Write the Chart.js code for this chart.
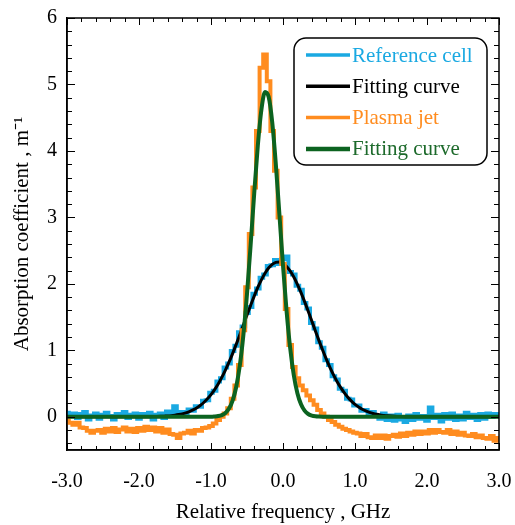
<!DOCTYPE html>
<html><head><meta charset="utf-8">
<script src="https://cdn.jsdelivr.net/npm/chart.js@4.4.1/dist/chart.umd.min.js"></script>
<style>html,body{margin:0;padding:0;background:#fff}#wrap{width:515px;height:525px;position:relative}</style>
</head><body><div id="wrap"><canvas id="c" width="515" height="525"></canvas></div>
<script>
const freq = [-3,-2.95,-2.9,-2.85,-2.8,-2.75,-2.7,-2.65,-2.6,-2.55,-2.5,-2.45,-2.4,-2.35,-2.3,-2.25,-2.2,-2.15,-2.1,-2.05,
-2,-1.95,-1.9,-1.85,-1.8,-1.75,-1.7,-1.65,-1.6,-1.55,-1.5,-1.45,-1.4,-1.35,-1.3,-1.25,-1.2,-1.15,-1.1,-1.05,
-1,-0.95,-0.9,-0.85,-0.8,-0.75,-0.7,-0.65,-0.6,-0.55,-0.5,-0.45,-0.4,-0.35,-0.3,-0.25,-0.2,-0.15,-0.1,-0.05,
0,0.05,0.1,0.15,0.2,0.25,0.3,0.35,0.4,0.45,0.5,0.55,0.6,0.65,0.7,0.75,0.8,0.85,0.9,0.95,
1,1.05,1.1,1.15,1.2,1.25,1.3,1.35,1.4,1.45,1.5,1.55,1.6,1.65,1.7,1.75,1.8,1.85,1.9,1.95,
2,2.05,2.1,2.15,2.2,2.25,2.3,2.35,2.4,2.45,2.5,2.55,2.6,2.65,2.7,2.75,2.8,2.85,2.9,2.95,3];

const referenceCell = [0.06,0.03,0.05,-0.02,0.04,0.07,-0.04,0.02,0.05,-0.03,0.03,0.06,0.01,-0.04,0.04,0.02,0.07,-0.02,0.03,0.05,
-0.03,0.04,0.01,0.06,-0.04,0.03,0.05,-0.02,0.08,0.03,0.16,0.06,0.07,0.05,0.11,0.09,0.16,0.15,0.24,0.25,
0.36,0.39,0.53,0.58,0.74,0.80,0.99,1.07,1.27,1.36,1.56,1.65,1.85,1.93,2.09,2.14,2.27,2.28,2.36,2.30,
2.37,2.41,2.18,2.14,1.97,1.91,1.71,1.63,1.41,1.33,1.12,1.04,0.85,0.78,0.61,0.56,0.42,0.39,0.27,0.26,
0.17,0.17,0.09,0.10,0.04,0.07,0.01,-0.03,0.05,-0.05,0.02,-0.06,0.03,-0.04,-0.08,0.02,-0.05,0.04,-0.03,0.01,
-0.06,0.14,-0.02,0.03,-0.07,0.04,-0.03,0.05,-0.05,0.02,-0.04,0.06,-0.02,0.03,-0.05,0.04,-0.03,0.05,0.00,0.04,0.02];

const referenceFit = [0,0,0,0,0,0,0,0,0,0,0,0,0,0,0,0,0,0,0,0,
0.001,0.001,0.002,0.002,0.003,0.004,0.006,0.009,0.012,0.017,0.024,0.033,0.044,0.059,0.079,0.103,0.133,0.170,0.215,0.270,
0.334,0.409,0.494,0.592,0.702,0.821,0.951,1.089,1.234,1.381,1.531,1.675,1.815,1.946,2.060,2.159,2.238,2.293,2.323,2.329,
2.308,2.262,2.193,2.103,1.993,1.869,1.733,1.589,1.441,1.292,1.146,1.005,0.872,0.748,0.635,0.532,0.442,0.363,0.294,0.236,
0.187,0.147,0.114,0.088,0.067,0.050,0.037,0.027,0.020,0.014,0.010,0.007,0.005,0.003,0.002,0.002,0.001,0.001,0,0,
0,0,0,0,0,0,0,0,0,0,0,0,0,0,0,0,0,0,0,0,0];

const plasmaJet = [-0.05,-0.09,-0.12,-0.09,-0.16,-0.17,-0.21,-0.24,-0.21,-0.20,-0.24,-0.18,-0.22,-0.17,-0.23,-0.19,-0.16,-0.22,-0.18,-0.23,
-0.17,-0.21,-0.15,-0.20,-0.16,-0.22,-0.17,-0.24,-0.19,-0.26,-0.27,-0.32,-0.25,-0.24,-0.21,-0.25,-0.20,-0.21,-0.17,-0.16,
-0.14,-0.10,-0.05,0.00,0.05,0.13,0.27,0.47,0.78,1.30,1.95,2.75,3.45,4.30,5.25,5.45,5.05,4.30,3.70,3.00,
2.30,1.62,1.08,0.75,0.58,0.47,0.40,0.32,0.25,0.18,0.10,0.05,0.00,-0.05,-0.08,-0.12,-0.15,-0.18,-0.20,-0.22,
-0.24,-0.25,-0.29,-0.26,-0.31,-0.32,-0.28,-0.32,-0.28,-0.33,-0.29,-0.27,-0.30,-0.25,-0.29,-0.24,-0.27,-0.22,-0.26,-0.22,
-0.25,-0.20,-0.24,-0.20,-0.23,-0.24,-0.20,-0.26,-0.22,-0.27,-0.24,-0.28,-0.29,-0.26,-0.31,-0.28,-0.32,-0.33,-0.29,-0.36,-0.32];

const plasmaFit = [0,0,0,0,0,0,0,0,0,0,0,0,0,0,0,0,0,0,0,0,
0,0,0,0,0,0,0,0,0,0,0,0,0,0,0,0,0,0,0,0,
0,0.004,0.011,0.026,0.058,0.123,0.244,0.448,0.770,1.235,1.848,2.578,3.357,4.077,4.621,4.885,4.817,4.434,3.805,3.047,
2.275,1.586,1.030,0.625,0.354,0.187,0.092,0.042,0.018,0.007,0.003,0.001,0,0,0,0,0,0,0,0,
0,0,0,0,0,0,0,0,0,0,0,0,0,0,0,0,0,0,0,0,
0,0,0,0,0,0,0,0,0,0,0,0,0,0,0,0,0,0,0,0,0];

const xTickValues = [-3,-2,-1,0,1,2,3];
const xTickLabels = ['-3.0','-2.0','-1.0','0.0','1.0','2.0','3.0'];
const yTickValues = [0,1,2,3,4,5,6];
const seriesNames = ['Reference cell','Fitting curve','Plasma jet','Fitting curve'];
const xTitle = 'Relative frequency , GHz';
const yTitle = 'Absorption coefficient , m\u207B\u00B9';

const SERIF = "'Liberation Serif','Times New Roman',serif";
const pts = (vals) => freq.map((x, i) => ({x: x, y: vals[i]}));

const frameAndTicks = {
  id: 'frameAndTicks',
  afterDraw(chart) {
    const {ctx, chartArea: a, scales: {x, y}} = chart;
    ctx.save();
    ctx.strokeStyle = '#000';
    ctx.lineWidth = 1;
    ctx.beginPath();
    for (let k = -15; k <= 15; k++) {
      const px = Math.round(x.getPixelForValue(k / 5)) + 0.5;
      const len = (k % 5 === 0) ? 7 : 4;
      ctx.moveTo(px, a.bottom); ctx.lineTo(px, a.bottom - len);
      ctx.moveTo(px, a.top); ctx.lineTo(px, a.top + len);
    }
    for (let k = -2; k <= 30; k++) {
      const py = Math.round(y.getPixelForValue(k / 5)) + 0.5;
      const len = (k % 5 === 0) ? 8 : 5;
      ctx.moveTo(a.left, py); ctx.lineTo(a.left + len, py);
      ctx.moveTo(a.right, py); ctx.lineTo(a.right - len, py);
    }
    ctx.stroke();
    ctx.lineWidth = 1.5;
    ctx.strokeRect(a.left, a.top, a.right - a.left, a.bottom - a.top);
    ctx.restore();
  }
};

const boxedLegend = {
  id: 'boxedLegend',
  afterDraw(chart) {
    const {ctx, chartArea: a} = chart;
    const ds = chart.data.datasets;
    const bw = 193, bh = 127;
    const bx = a.right - 12 - bw, by = a.top + 20;
    ctx.save();
    ctx.fillStyle = '#fff';
    ctx.strokeStyle = '#000';
    ctx.lineWidth = 1.5;
    ctx.beginPath();
    ctx.roundRect(bx, by, bw, bh, 12);
    ctx.fill();
    ctx.stroke();
    ctx.font = "21px " + SERIF;
    ctx.textBaseline = 'middle';
    ctx.textAlign = 'left';
    ds.forEach((d, i) => {
      const cy = by + 17 + i * 31.3;
      ctx.strokeStyle = d.borderColor;
      ctx.lineWidth = d.legendLineWidth;
      ctx.beginPath();
      ctx.moveTo(bx + 12, cy); ctx.lineTo(bx + 56, cy);
      ctx.stroke();
      ctx.fillStyle = d.legendTextColor;
      ctx.fillText(d.label, bx + 58, cy + 1);
    });
    ctx.restore();
  }
};

new Chart(document.getElementById('c'), {
  type: 'line',
  data: {
    datasets: [
      {label: seriesNames[0], data: pts(referenceCell), borderColor: '#1aa9e2', legendTextColor: '#1aa9e2', legendLineWidth: 3.5, borderWidth: 4, pointRadius: 0, stepped: 'middle', order: 4},
      {label: seriesNames[1], data: pts(referenceFit), borderColor: '#000000', legendTextColor: '#000000', legendLineWidth: 3.5, borderWidth: 3, pointRadius: 0, cubicInterpolationMode: 'monotone', order: 3},
      {label: seriesNames[2], data: pts(plasmaJet), borderColor: '#ff8c1f', legendTextColor: '#ff8c1f', legendLineWidth: 3.5, borderWidth: 4, pointRadius: 0, stepped: 'middle', order: 2},
      {label: seriesNames[3], data: pts(plasmaFit), borderColor: '#0c6320', legendTextColor: '#1d6a2b', legendLineWidth: 4.5, borderWidth: 4, pointRadius: 0, cubicInterpolationMode: 'monotone', order: 1}
    ]
  },
  options: {
    responsive: false,
    animation: false,
    layout: {padding: {left: 0, right: 16, top: 18, bottom: 0}},
    plugins: {legend: {display: false}, tooltip: {enabled: false}},
    scales: {
      x: {
        type: 'linear', min: -3, max: 3,
        afterBuildTicks: (s) => { s.ticks = xTickValues.map(v => ({value: v})); },
        afterFit: (s) => { s.height = 75; s.paddingLeft = 0; s.paddingRight = 0; },
        grid: {display: false, drawTicks: false},
        border: {display: true, color: '#000', width: 1.5},
        ticks: {color: '#000', font: {family: SERIF, size: 20}, padding: 20, maxRotation: 0, autoSkip: false,
          callback: (v) => xTickLabels[xTickValues.indexOf(v)]},
        title: {display: true, text: xTitle, color: '#000', font: {family: SERIF, size: 21}, padding: {top: 0, bottom: 0}}
      },
      y: {
        type: 'linear', min: -0.5, max: 6,
        afterBuildTicks: (s) => { s.ticks = yTickValues.map(v => ({value: v})); },
        afterFit: (s) => { s.width = 67; s.paddingTop = 0; s.paddingBottom = 0; },
        grid: {display: false, drawTicks: false},
        border: {display: true, color: '#000', width: 1.5},
        ticks: {color: '#000', font: {family: SERIF, size: 20}, padding: 10, autoSkip: false,
          callback: (v) => String(v)},
        title: {display: true, text: yTitle, color: '#000', font: {family: SERIF, size: 21}, padding: {top: 10, bottom: 0}}
      }
    }
  },
  plugins: [frameAndTicks, boxedLegend]
});
</script>
</body></html>
